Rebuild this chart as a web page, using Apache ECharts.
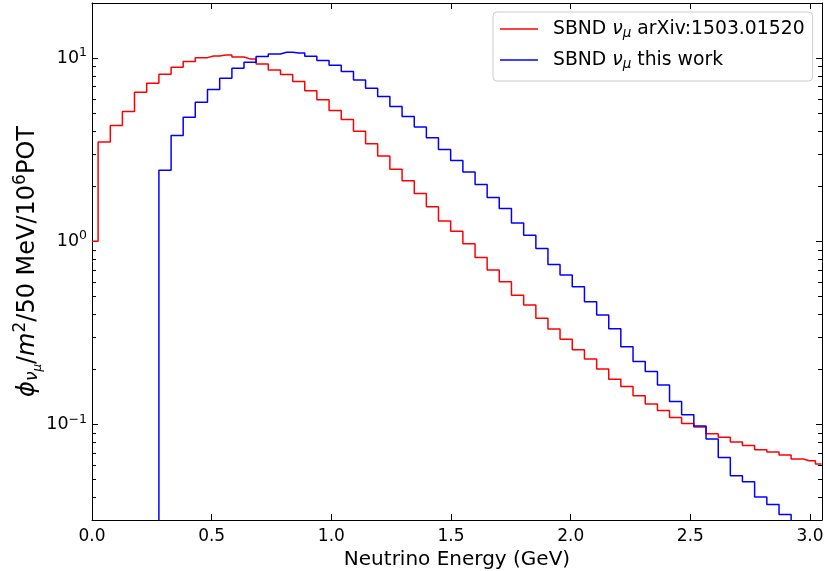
<!DOCTYPE html>
<html>
<head>
<meta charset="utf-8">
<script src="https://cdn.jsdelivr.net/npm/echarts@6/dist/echarts.min.js"></script>
<style>
html, body { margin: 0; padding: 0; background: #fff; }
#chart { width: 825px; height: 571px; }
</style>
</head>
<body>
<div id="chart"></div>
<script>
// bin centres (GeV), step drawn at the mid points
const energy = [
  0.000, 0.051, 0.102, 0.152, 0.203, 0.254, 0.305, 0.356, 0.406, 0.457,
  0.508, 0.559, 0.610, 0.660, 0.711, 0.762, 0.813, 0.864, 0.914, 0.965,
  1.016, 1.067, 1.118, 1.168, 1.219, 1.270, 1.321, 1.372, 1.422, 1.473,
  1.524, 1.575, 1.626, 1.676, 1.727, 1.778, 1.829, 1.880, 1.930, 1.981,
  2.032, 2.083, 2.134, 2.184, 2.235, 2.286, 2.337, 2.388, 2.438, 2.489,
  2.540, 2.591, 2.642, 2.692, 2.743, 2.794, 2.845, 2.896, 2.946, 2.997,
  3.048
];
const fluxPaper = [
  1.0, 3.48, 4.29, 5.11, 6.51, 7.29, 8.16, 8.91, 9.57, 10.06,
  10.28, 10.41, 10.15, 9.9, 9.3, 8.6, 8.13, 7.45, 6.63, 5.92,
  5.17, 4.62, 3.99, 3.41, 2.92, 2.47, 2.14, 1.82, 1.54, 1.29,
  1.134, 0.967, 0.815, 0.695, 0.60, 0.506, 0.448, 0.379, 0.331, 0.291,
  0.255, 0.227, 0.2006, 0.176, 0.161, 0.143, 0.129, 0.119, 0.109, 0.101,
  0.0966, 0.0888, 0.085, 0.080, 0.0766, 0.0726, 0.0706, 0.0679, 0.0646, 0.0632,
  0.0607
];
const fluxThisWork = [
  null, null, null, null, null, 0.001, 2.44, 3.78, 4.76, 5.74,
  6.74, 7.76, 8.79, 9.48, 10.19, 10.54, 10.76, 10.67, 10.23, 9.69,
  9.14, 8.44, 7.6, 6.84, 6.17, 5.44, 4.8, 4.2, 3.67, 3.17,
  2.76, 2.39, 2.04, 1.73, 1.51, 1.258, 1.078, 0.912, 0.746, 0.653,
  0.564, 0.467, 0.395, 0.332, 0.265, 0.22, 0.194, 0.164, 0.133, 0.1127,
  0.098, 0.083, 0.0659, 0.0524, 0.0486, 0.0401, 0.0364, 0.0321, 0.027, 0.024,
  0.021
];
const seriesNames = ['SBND ν_μ arXiv:1503.01520', 'SBND ν_μ this work'];
const seriesColors = ['#ff0000', '#0000ff'];
const yMinorTicks = [0.04, 0.05, 0.06, 0.07, 0.08, 0.09,
  0.2, 0.3, 0.4, 0.5, 0.6, 0.7, 0.8, 0.9,
  2, 3, 4, 5, 6, 7, 8, 9];

const xMin = 0, xMax = 3.05, yMin = 0.03, yMax = 20;
const font = 'DejaVu Sans';

let chart = echarts.init(document.getElementById('chart'));

const toPairs = (vals) => energy.map((e, i) => [e, vals[i]]).filter(d => d[1] != null);

const frameAxisX = (pos) => ({
  type: 'value',
  position: pos,
  min: xMin,
  max: xMax,
  interval: 0.5,
  axisLine: { show: true, onZero: false, lineStyle: { color: '#000', width: 1 } },
  axisTick: { show: true, inside: true, length: 6, lineStyle: { color: '#000', width: 1 } },
  splitLine: { show: false }
});
const frameAxisY = (pos) => ({
  type: 'log',
  logBase: 10,
  position: pos,
  min: yMin,
  max: yMax,
  axisLine: { show: true, onZero: false, lineStyle: { color: '#000', width: 1 } },
  axisTick: { show: true, inside: true, length: 6, lineStyle: { color: '#000', width: 1 } },
  splitLine: { show: false }
});

const isDecade = v => Math.abs(Math.log10(v) - Math.round(Math.log10(v))) < 1e-6;

let xBottom = frameAxisX('bottom');
xBottom.axisLabel = {
  color: '#000', fontSize: 17, fontFamily: font, margin: 8,
  showMaxLabel: false,
  formatter: v => v.toFixed(1)
};
xBottom.name = 'Neutrino Energy (GeV)';
xBottom.nameLocation = 'middle';
xBottom.nameGap = 24;
xBottom.nameTextStyle = { color: '#000', fontSize: 20, fontFamily: font };

let xTop = frameAxisX('top');
xTop.axisLabel = { show: false };

let yLeft = frameAxisY('left');
yLeft.axisLabel = {
  color: '#000', fontSize: 17.5, fontFamily: font, margin: 5,
  formatter: v => {
    if (!isDecade(v)) return '';
    const p = Math.round(Math.log10(v));
    return '10{sup|' + (p < 0 ? '\u2212' + (-p) : p) + '}';
  },
  rich: {
    sup: { fontSize: 12.5, fontFamily: font, color: '#000', padding: [0, 0, 10, 0] }
  }
};
yLeft.name = '{i|ϕ}{s1|ν}{s2|μ}{n|/}{i|m}{sup|2}{n|/50 MeV/10}{sup|6}{n|POT}';
yLeft.nameLocation = 'middle';
yLeft.nameGap = 48;
yLeft.nameMoveOverlap = false;
yLeft.nameTextStyle = {
  color: '#000', fontSize: 24, fontFamily: font,
  rich: {
    n: { fontSize: 24, fontFamily: font, color: '#000' },
    i: { fontSize: 24, fontFamily: font, fontStyle: 'italic', color: '#000' },
    s1: { fontSize: 17, fontFamily: font, fontStyle: 'italic', color: '#000', padding: [10, 0, 0, 0] },
    s2: { fontSize: 12, fontFamily: font, fontStyle: 'italic', color: '#000', padding: [20, 0, 0, 0] },
    sup: { fontSize: 17, fontFamily: font, color: '#000', padding: [0, 0, 14, 0] }
  }
};

let yRight = frameAxisY('right');
yRight.axisLabel = { show: false };

const legendText = name => name.replace('ν_μ', '{nu|ν}{mu|μ}');

chart.setOption({
  animation: false,
  backgroundColor: '#fff',
  grid: { left: 92, right: 3, top: 3, bottom: 51, containLabel: false, outerBoundsMode: 'none' },
  legend: {
    data: seriesNames,
    orient: 'vertical',
    left: 493,
    top: 12,
    icon: 'rect',
    itemWidth: 38,
    itemHeight: 1.5,
    itemGap: 10,
    padding: [7, 8, 10, 7],
    backgroundColor: 'rgba(255,255,255,0.8)',
    borderColor: '#cccccc',
    borderWidth: 1,
    borderRadius: 4,
    formatter: legendText,
    textStyle: {
      color: '#000', fontSize: 18.8, fontFamily: font, padding: [0, 0, 0, 10], lineHeight: 20,
      rich: {
        nu: { fontSize: 18.8, fontFamily: font, fontStyle: 'italic', color: '#000' },
        mu: { fontSize: 13.5, fontFamily: font, fontStyle: 'italic', color: '#000', padding: [8, 0, 0, 0] }
      }
    }
  },
  xAxis: [xBottom, xTop],
  yAxis: [yLeft, yRight],
  series: [
    {
      name: seriesNames[0],
      type: 'line',
      step: 'middle',
      data: toPairs(fluxPaper),
      showSymbol: false,
      symbol: 'none',
      lineStyle: { color: seriesColors[0], width: 1.5 },
      itemStyle: { color: seriesColors[0] },
      z: 3
    },
    {
      name: seriesNames[1],
      type: 'line',
      step: 'middle',
      data: toPairs(fluxThisWork),
      showSymbol: false,
      symbol: 'none',
      lineStyle: { color: seriesColors[1], width: 1.5 },
      itemStyle: { color: seriesColors[1] },
      z: 3
    },
    {
      // log-scale minor ticks on left and right spines
      type: 'custom',
      silent: true,
      clip: false,
      data: [[xMin, 1]],
      renderItem: (params, api) => {
        let children = [];
        yMinorTicks.forEach(v => {
          const l = api.coord([xMin, v]);
          const r = api.coord([xMax, v]);
          const y = Math.round(l[1]) + 0.5;
          children.push({
            type: 'line',
            shape: { x1: l[0], y1: y, x2: l[0] + 4, y2: y },
            style: { stroke: '#000', lineWidth: 1 }
          });
          children.push({
            type: 'line',
            shape: { x1: r[0], y1: y, x2: r[0] - 4, y2: y },
            style: { stroke: '#000', lineWidth: 1 }
          });
        });
        return { type: 'group', children };
      },
      z: 4
    }
  ]
});
</script>
</body>
</html>
